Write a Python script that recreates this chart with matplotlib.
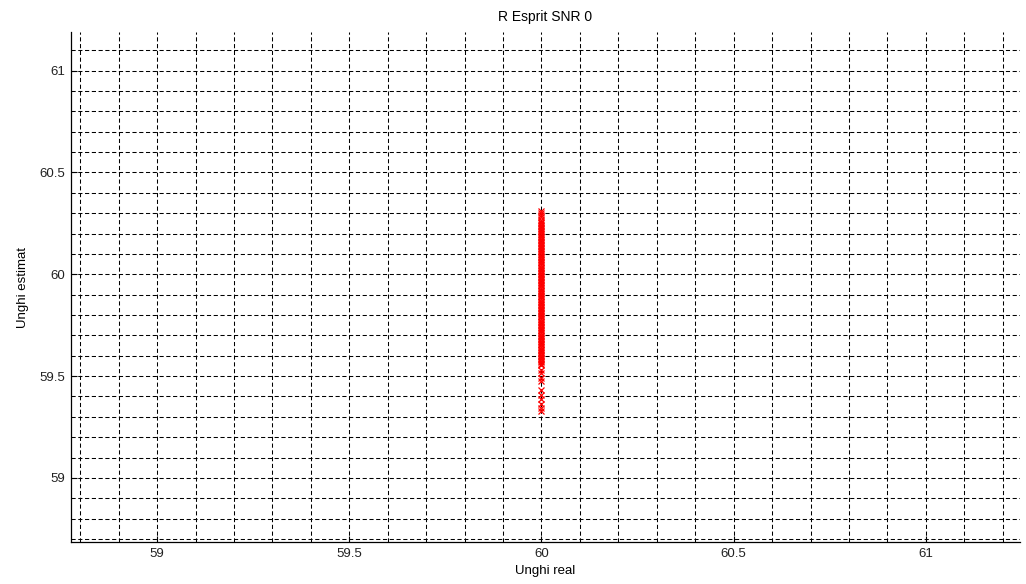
import matplotlib.pyplot as plt
from matplotlib.ticker import MultipleLocator, FormatStrFormatter

plt.rcParams['font.family'] = ['Liberation Sans', 'DejaVu Sans']

# true angle for every trial (degrees)
angle_real = 60.0

# estimated angles returned by ESPRIT, one per trial
angle_est = [
    60.31, 60.30, 60.29, 60.28,
    60.265, 60.258, 60.251, 60.243, 60.236, 60.229, 60.221, 60.213, 60.206, 60.198,
    60.19, 60.183, 60.175, 60.168, 60.16, 60.153, 60.145, 60.137, 60.13, 60.122,
    60.114, 60.107, 60.099, 60.092, 60.084, 60.076, 60.069, 60.061, 60.054, 60.046,
    60.038, 60.031, 60.023, 60.016, 60.008, 60.001, 59.993, 59.985, 59.978, 59.97,
    59.963, 59.955, 59.947, 59.94, 59.932, 59.924, 59.917, 59.909, 59.902, 59.894,
    59.886, 59.879, 59.871, 59.864, 59.856, 59.848, 59.841, 59.833, 59.826, 59.818,
    59.81, 59.803, 59.795, 59.788, 59.78, 59.772, 59.765, 59.757, 59.749, 59.742,
    59.734, 59.727, 59.719, 59.711, 59.704, 59.696, 59.689, 59.681, 59.673, 59.666,
    59.658, 59.651, 59.643, 59.635, 59.628, 59.62, 59.612, 59.605, 59.597, 59.59,
    59.582, 59.574, 59.567, 59.559, 59.552,
    59.53, 59.515, 59.49, 59.475,
    59.43, 59.405, 59.385, 59.365, 59.345, 59.33,
]

fig = plt.figure(figsize=(10.26, 5.84), dpi=100)
ax = fig.add_axes([71 / 1026, 1 - 542 / 584, (1020 - 71) / 1026, (542 - 32) / 584])

ax.plot([angle_real] * len(angle_est), angle_est, 'x', color='#ff0000',
        markersize=4.5, markeredgewidth=0.9, zorder=3)

ax.set_xlim(58.776, 61.245)
ax.set_ylim(58.685, 61.19)

ax.xaxis.set_major_locator(MultipleLocator(0.5))
ax.yaxis.set_major_locator(MultipleLocator(0.5))
ax.xaxis.set_minor_locator(MultipleLocator(0.1))
ax.yaxis.set_minor_locator(MultipleLocator(0.1))
ax.xaxis.set_major_formatter(FormatStrFormatter('%g'))
ax.yaxis.set_major_formatter(FormatStrFormatter('%g'))
ax.set_xticklabels([], minor=True)
ax.set_yticklabels([], minor=True)

ax.grid(which='both', color='black', linestyle=(0, (4, 2.5)), linewidth=0.75)
ax.set_axisbelow(True)

ax.tick_params(which='major', direction='in', length=4, width=0.8,
               labelsize=9.5, labelcolor='#222222', top=False, right=False, pad=4)
ax.tick_params(which='minor', length=0)

for side in ['top', 'right']:
    ax.spines[side].set_visible(False)
for side in ['left', 'bottom']:
    ax.spines[side].set_linewidth(0.9)

ax.set_title('R Esprit SNR 0', fontsize=10, pad=8)
ax.set_xlabel('Unghi real', fontsize=9.5, labelpad=4)
ax.set_ylabel('Unghi estimat', fontsize=9.5, labelpad=8)

fig.savefig('out.png', dpi=100)
